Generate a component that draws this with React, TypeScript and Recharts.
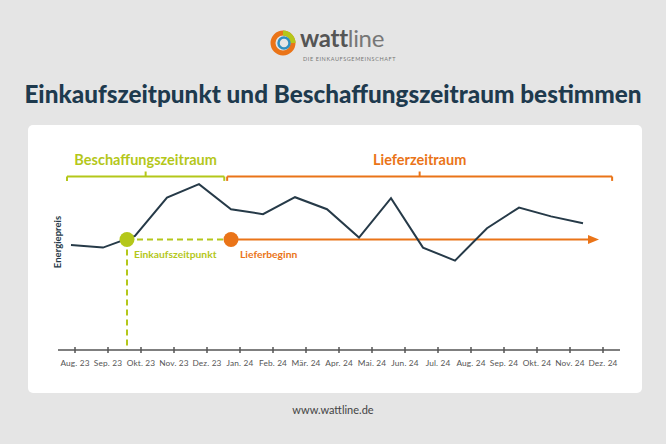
import React from "react";
import { LineChart, Line, XAxis, YAxis, ReferenceLine, ReferenceDot } from "recharts";

const months = ["Aug. 23","Sep. 23","Okt. 23","Nov. 23","Dez. 23","Jan. 24","Feb. 24","Mär. 24","Apr. 24","Mai. 24","Jun. 24","Jul. 24","Aug. 24","Sep. 24","Okt. 24","Nov. 24","Dez. 24"];
const monthIndex = [0,1,2,3,4,5,6,7,8,9,10,11,12,13,14,15,16];
const energyPrice = [52.5,51.2,57,76.2,82.9,70.4,67.9,76.4,70.4,56.2,75.9,51.2,44.7,60.9,71.2,66.8,63.4];

const purchasePoint = 1.75;
const deliveryStart = 5;
const markerLevel = 55.25;
const arrowEnd = 16.5;
const procurementRange = [-0.125, 4.79];
const deliveryRange = [4.88, 16.91];
const bracketLevel = 86.75;

const data = monthIndex.map((i) => ({ i, price: energyPrice[i] }));

const GREEN = "#b4c71a";
const ORANGE = "#ea7418";
const DARK = "#263a48";
const FONT = "Lato, 'Noto Sans', sans-serif";

const MonthTick = (props: any) => {
  const { x, y, payload } = props;
  return (
    <g>
      <line x1={x} x2={x} y1={y - 3} y2={y + 3} stroke="#555" strokeWidth={1.5} />
      <text x={x} y={y + 16} textAnchor="middle" fontSize={8.3} letterSpacing={0.15} fill="#555" fontFamily={FONT}>
        {months[payload.value]}
      </text>
    </g>
  );
};

function bracketLines(range: number[], color: string, key: string) {
  const mid = (range[0] + range[1]) / 2;
  return [
    <ReferenceLine key={key + "a"} xAxisId="line" yAxisId="y" segment={[{ x: range[0], y: bracketLevel }, { x: range[1], y: bracketLevel }]} stroke={color} strokeWidth={2} ifOverflow="visible" />,
    <ReferenceLine key={key + "b"} xAxisId="line" yAxisId="y" segment={[{ x: range[0], y: bracketLevel }, { x: range[0], y: bracketLevel - 2.2 }]} stroke={color} strokeWidth={2} ifOverflow="visible" />,
    <ReferenceLine key={key + "c"} xAxisId="line" yAxisId="y" segment={[{ x: range[1], y: bracketLevel }, { x: range[1], y: bracketLevel - 2.2 }]} stroke={color} strokeWidth={2} ifOverflow="visible" />,
    <ReferenceLine key={key + "d"} xAxisId="line" yAxisId="y" segment={[{ x: mid, y: bracketLevel }, { x: mid, y: bracketLevel + 2.5 }]} stroke={color} strokeWidth={2} ifOverflow="visible" />,
  ];
}

const Logo = () => (
  <div style={{ position: "absolute", left: 268, top: 28, width: 140, height: 40 }}>
    <svg width={30} height={30} style={{ position: "absolute", left: 0, top: 0 }}>
      <circle cx={15} cy={15} r={10} fill="none" stroke={ORANGE} strokeWidth={5} />
      <path d="M 15 5 A 10 10 0 0 1 25 15" fill="none" stroke={GREEN} strokeWidth={5} />
      <circle cx={16} cy={15} r={5.5} fill="none" stroke="#2f8fc0" strokeWidth={2.5} />
    </svg>
    <div style={{ position: "absolute", left: 32, top: -4, fontFamily: FONT, fontSize: 24, lineHeight: "28px", letterSpacing: -0.3, whiteSpace: "nowrap" }}>
      <span style={{ fontWeight: 700, color: "#555" }}>watt</span>
      <span style={{ fontWeight: 400, color: "#777" }}>line</span>
    </div>
    <div style={{ position: "absolute", left: 35, top: 28, fontFamily: FONT, fontSize: 5.5, color: "#777", letterSpacing: 0.6, whiteSpace: "nowrap" }}>
      DIE EINKAUFSGEMEINSCHAFT
    </div>
  </div>
);

export default function App() {
  return (
    <div style={{ position: "absolute", left: 0, top: 0, width: 666, height: 444, background: "#e5e5e5", overflow: "hidden", fontFamily: FONT }}>
      <Logo />
      <div style={{ position: "absolute", left: 0, width: 666, top: 79, textAlign: "center", fontSize: 24.3, fontWeight: 900, color: "#1e3a4e", whiteSpace: "nowrap" }}>
        Einkaufszeitpunkt und Beschaffungszeitraum bestimmen
      </div>
      <div style={{ position: "absolute", left: 28, top: 125, width: 614, height: 268, background: "#fff", borderRadius: 5 }} />
      <div style={{ position: "absolute", left: 0, width: 666, top: 403, textAlign: "center", fontSize: 11, color: "#444" }}>
        www.wattline.de
      </div>
      <div style={{ position: "absolute", left: 57, top: 242, transform: "translate(-50%, -50%) rotate(-90deg)", fontSize: 9.5, fontWeight: 700, color: DARK, whiteSpace: "nowrap" }}>
        Energiepreis
      </div>
      <div style={{ position: "absolute", left: 0, top: 0 }}>
        <LineChart width={666} height={444} data={data} margin={{ left: 58, right: 46, top: 150, bottom: 64 }}>
          <XAxis xAxisId="months" dataKey="i" type="number" domain={[-17 / 33, 16 + 17 / 33]} allowDataOverflow ticks={monthIndex} interval={0}
            tick={<MonthTick />} tickLine={false} tickSize={0} tickMargin={0} height={30} axisLine={{ stroke: "#555", strokeWidth: 1.6 }} />
          <XAxis xAxisId="line" orientation="top" height={0} dataKey="i" type="number" domain={[-13 / 32, 549 / 32]} allowDataOverflow hide />
          <YAxis yAxisId="y" domain={[0, 100]} allowDataOverflow hide width={0} />
          {bracketLines(procurementRange, GREEN, "g")}
          {bracketLines(deliveryRange, ORANGE, "o")}
          <ReferenceDot xAxisId="line" yAxisId="y" x={(procurementRange[0] + procurementRange[1]) / 2} y={95} ifOverflow="visible"
            shape={(p: any) => <text x={p.cx} y={p.cy} dy={5} textAnchor="middle" fontSize={14.5} fontWeight={700} fill={GREEN} fontFamily={FONT}>Beschaffungszeitraum</text>} />
          <ReferenceDot xAxisId="line" yAxisId="y" x={(deliveryRange[0] + deliveryRange[1]) / 2} y={95} ifOverflow="visible"
            shape={(p: any) => <text x={p.cx} y={p.cy} dy={5} textAnchor="middle" fontSize={14.5} fontWeight={700} fill={ORANGE} fontFamily={FONT}>Lieferzeitraum</text>} />
          <ReferenceLine xAxisId="line" yAxisId="y" segment={[{ x: purchasePoint, y: markerLevel }, { x: purchasePoint, y: 0 }]} stroke={GREEN} strokeWidth={2} strokeDasharray="6 4" ifOverflow="visible" />
          <ReferenceLine xAxisId="line" yAxisId="y" segment={[{ x: purchasePoint, y: markerLevel }, { x: deliveryStart, y: markerLevel }]} stroke={GREEN} strokeWidth={2} strokeDasharray="6 4" ifOverflow="visible" />
          <ReferenceLine xAxisId="line" yAxisId="y" segment={[{ x: deliveryStart, y: markerLevel }, { x: arrowEnd - 0.3, y: markerLevel }]} stroke={ORANGE} strokeWidth={2} ifOverflow="visible" />
          <Line xAxisId="line" yAxisId="y" type="linear" dataKey="price" stroke={DARK} strokeWidth={2} dot={false} activeDot={false} isAnimationActive={false} />
          <ReferenceDot xAxisId="line" yAxisId="y" x={arrowEnd} y={markerLevel} ifOverflow="visible"
            shape={(p: any) => <polygon points={`${p.cx - 11},${p.cy - 4.5} ${p.cx},${p.cy} ${p.cx - 11},${p.cy + 4.5}`} fill={ORANGE} />} />
          <ReferenceDot xAxisId="line" yAxisId="y" x={purchasePoint} y={markerLevel} r={7.5} fill={GREEN} stroke="none" ifOverflow="visible" />
          <ReferenceDot xAxisId="line" yAxisId="y" x={deliveryStart} y={markerLevel} r={7.5} fill={ORANGE} stroke="none" ifOverflow="visible" />
          <ReferenceDot xAxisId="line" yAxisId="y" x={purchasePoint} y={markerLevel} ifOverflow="visible"
            shape={(p: any) => <text x={p.cx + 7} y={p.cy + 18} fontSize={10.3} fontWeight={700} fill={GREEN} fontFamily={FONT}>Einkaufszeitpunkt</text>} />
          <ReferenceDot xAxisId="line" yAxisId="y" x={deliveryStart} y={markerLevel} ifOverflow="visible"
            shape={(p: any) => <text x={p.cx + 9} y={p.cy + 18} fontSize={10.3} fontWeight={700} fill={ORANGE} fontFamily={FONT}>Lieferbeginn</text>} />
        </LineChart>
      </div>
    </div>
  );
}
